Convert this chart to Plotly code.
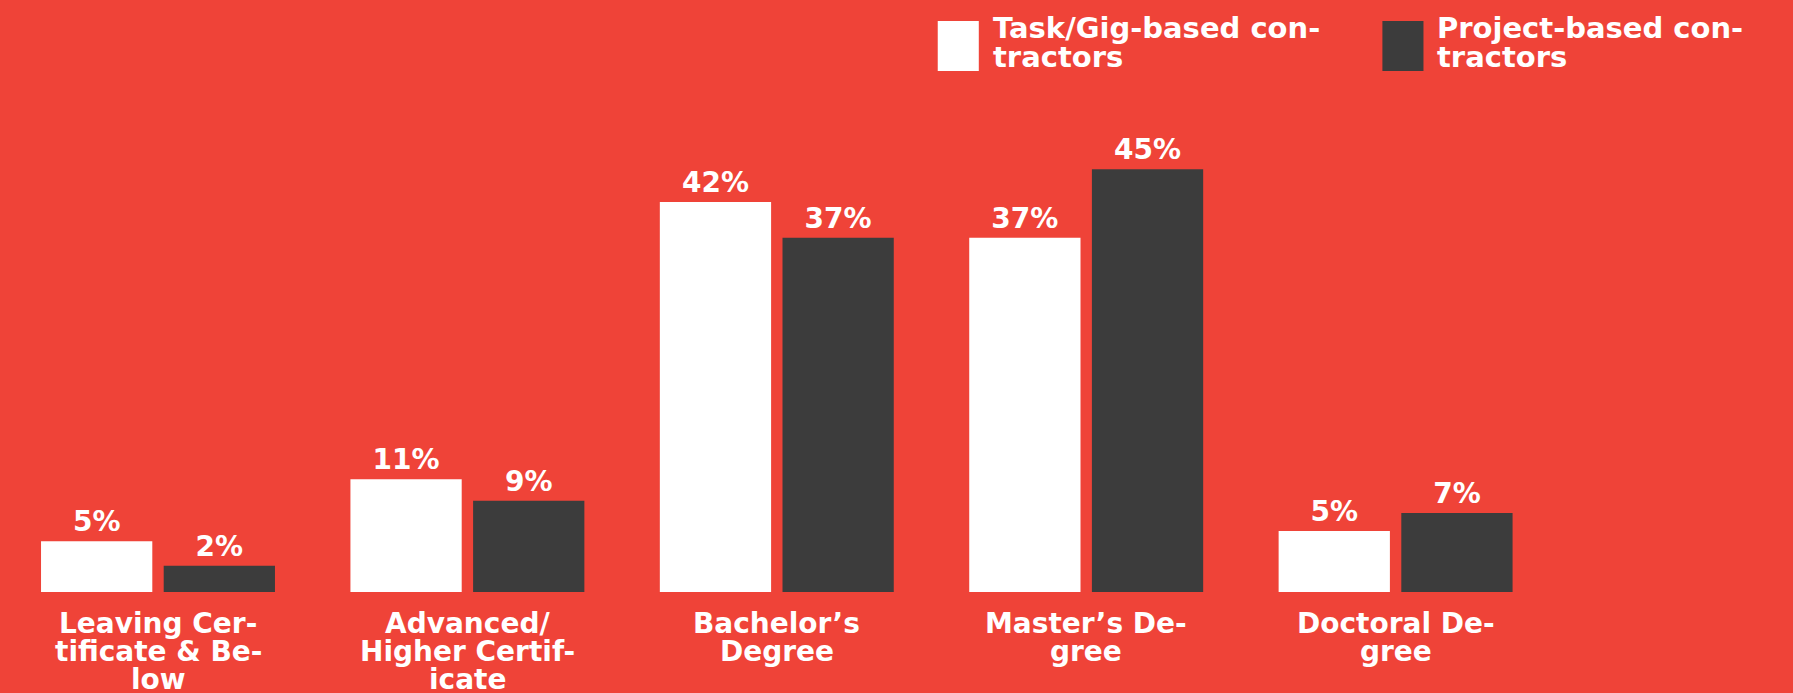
import plotly.graph_objects as go

# category labels, line by line (hyphenated as in the original)
category_lines = [
    ["Leaving Cer-", "tificate & Be-", "low"],
    ["Advanced/", "Higher Certif-", "icate"],
    ["Bachelor’s", "Degree"],
    ["Master’s De-", "gree"],
    ["Doctoral De-", "gree"],
]
series_lines = [["Task/Gig-based con-", "tractors"], ["Project-based con-", "tractors"]]
# bar heights (%)
task_values = [5.4, 12.0, 41.5, 37.7, 6.5]
project_values = [2.8, 9.7, 37.7, 45.0, 8.4]
# printed labels
task_labels = ["5%", "11%", "42%", "37%", "5%"]
project_labels = ["2%", "9%", "37%", "45%", "7%"]

BG = "#EF4338"
WHITE = "#FFFFFF"
DARK = "#3C3C3C"
FONT = "DejaVu Sans"

xs = list(range(len(category_lines)))
names = [" ".join(l) for l in series_lines]

fig = go.Figure()
fig.add_trace(go.Bar(x=xs, y=task_values, text=task_labels, name=names[0],
                     marker=dict(color=WHITE, line=dict(width=0)),
                     textposition="outside", constraintext="none", cliponaxis=False,
                     textfont=dict(family=FONT, size=28, color=WHITE, weight="bold")))
fig.add_trace(go.Bar(x=xs, y=project_values, text=project_labels, name=names[1],
                     marker=dict(color=DARK, line=dict(width=0)),
                     textposition="outside", constraintext="none", cliponaxis=False,
                     textfont=dict(family=FONT, size=28, color=WHITE, weight="bold")))

# category labels, one annotation per line
for x, lines in zip(xs, category_lines):
    for k, line in enumerate(lines):
        fig.add_annotation(x=x, y=0, xref="x", yref="y", yanchor="middle", xanchor="center",
                           yshift=-31 - 28 * k, showarrow=False, text=line,
                           font=dict(family=FONT, size=28, color=WHITE, weight="bold"))

# manual legend
legend_x = [0.523, 0.771]
legend_colors = [WHITE, DARK]
for lx, col, lines in zip(legend_x, legend_colors, series_lines):
    fig.add_shape(type="rect", xref="paper", yref="paper",
                  x0=lx, x1=lx + 0.0229, y0=1 - 71 / 592, y1=1 - 21 / 592,
                  fillcolor=col, line=dict(width=0))
    for k, line in enumerate(lines):
        fig.add_annotation(xref="paper", yref="paper", x=lx + 0.0295, y=1 - (28.5 + 28.5 * k) / 592,
                           xanchor="left", yanchor="middle", align="left", showarrow=False,
                           text=line, font=dict(family=FONT, size=29, color=WHITE, weight="bold"))

pitch = 309.4
left_units = 158 / pitch
span = 1793 / pitch
fig.update_layout(
    width=1793, height=693,
    paper_bgcolor=BG, plot_bgcolor=BG,
    margin=dict(l=0, r=0, t=0, b=101),
    barmode="group", bargap=0.207, bargroupgap=0.093,
    showlegend=False,
    xaxis=dict(range=[-left_units, -left_units + span], showticklabels=False,
               showgrid=False, zeroline=False, showline=False, ticks=""),
    yaxis=dict(range=[0, 63], visible=False, showgrid=False, zeroline=False),
)

fig.write_html("out.html", config={"displayModeBar": False},
               post_script="document.body.style.margin='0';")
